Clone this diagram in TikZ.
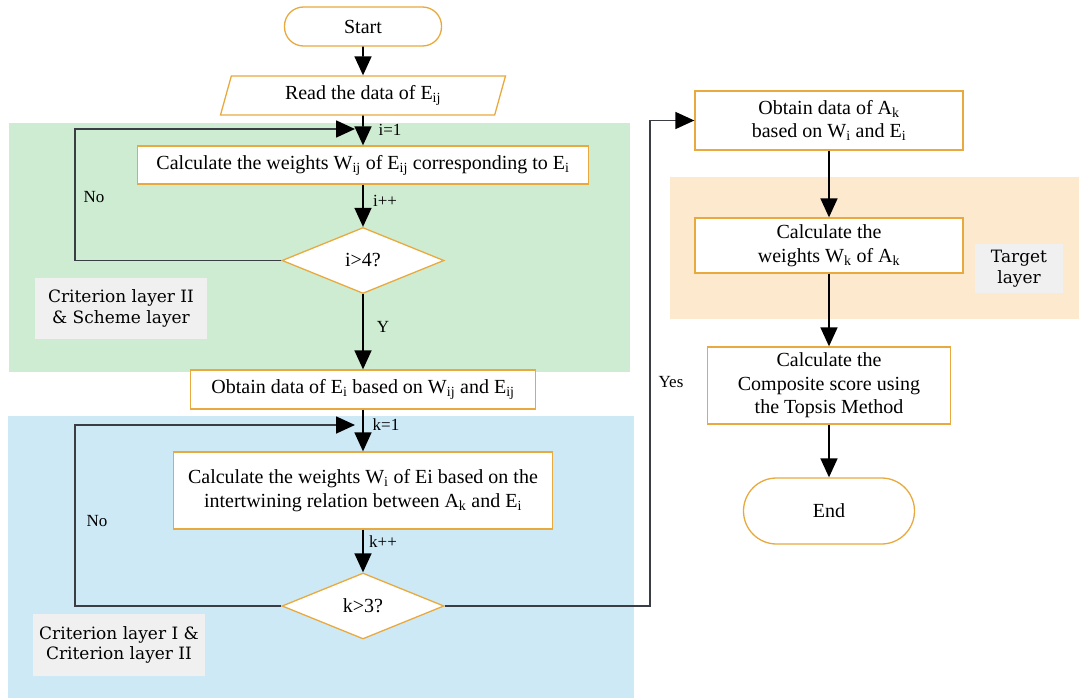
\documentclass[tikz,border=0pt]{standalone}
\usepackage{fontspec}
\setmainfont{Liberation Serif}
\newfontfamily\layerfont{DejaVu Serif}
\usetikzlibrary{shapes.geometric, arrows.meta, positioning}

\definecolor{edgeorange}{RGB}{232,170,62}
\definecolor{bggreen}{RGB}{206,236,209}
\definecolor{bgblue}{RGB}{206,233,246}
\definecolor{bgorange}{RGB}{252,233,206}
\definecolor{taggray}{RGB}{240,240,240}
\definecolor{loopgray}{RGB}{58,62,68}

\begin{document}
\begin{tikzpicture}[
      x=1bp, y=-1bp,
      every node/.style={font=\fontsize{20bp}{23.5bp}\selectfont},
      proc/.style={
          rectangle,
          draw=edgeorange,
          line width=1.3bp,
          fill=white,
          align=center,
          inner sep=2bp
        },
      term/.style={
          rectangle,
          rounded corners=19bp,
          draw=edgeorange,
          line width=1.3bp,
          fill=white,
          align=center
        },
      io/.style={
          trapezium,
          trapezium left angle=68,
          trapezium right angle=112,
          trapezium stretches body,
          draw=edgeorange,
          line width=1.3bp,
          fill=white,
          minimum height=39bp
        },
      decision/.style={
          diamond,
          aspect=2.5,
          inner sep=0pt,
          draw=edgeorange,
          line width=1.3bp,
          fill=white,
          minimum width=162bp,
          minimum height=66bp
        },
      layertag/.style={
          rectangle,
          fill=taggray,
          align=center,
          font=\layerfont\fontsize{17bp}{20.5bp}\selectfont
        },
      flowlabel/.style={
          font=\fontsize{17bp}{20bp}\selectfont,
          inner sep=0pt
        },
      arrow/.style={
          -{Triangle[length=19bp,width=17bp,color=black]},
          line width=1.6bp
        },
      backline/.style={
          -{Triangle[length=19bp,width=17bp,color=black]},
          draw=loopgray,
          line width=1.7bp
        }
    ]
    \useasboundingbox (0,0) rectangle (1079,698);

    % Layers
    \fill[bggreen] (9,123) rectangle (630,372);
    \fill[bgblue] (8,416) rectangle (634,698);
    \fill[bgorange] (670,177) rectangle (1079,319);

    \node[layertag, minimum width=172bp, minimum height=61bp] (tagscheme) at (121,308.5) {Criterion layer II\\\& Scheme layer};
    \node[layertag, minimum width=172bp, minimum height=62bp] (tagcrit) at (119,645) {Criterion layer I \&\\Criterion layer II};
    \node[layertag, minimum width=88bp, minimum height=49bp] (tagtarget) at (1019,268.5) {Target\\layer};

    % Nodes
    \node[term, minimum width=157bp, minimum height=39bp] (start) at (363,26.5) {Start};
    \node[io, minimum width=285bp] (read) at (363,95.5) {Read the data of E\textsubscript{ij}};
    \node[proc, minimum width=451bp, minimum height=38bp] (wij) at (363,165) {Calculate the weights W\textsubscript{ij} of E\textsubscript{ij} corresponding to E\textsubscript{i}};
    \node[decision] (ichk) at (363,260.5) {i>4?};
    \node[proc, minimum width=345bp, minimum height=39bp] (ei) at (363,389.5) {Obtain data of E\textsubscript{i} based on W\textsubscript{ij} and E\textsubscript{ij}};
    \node[proc, minimum width=379bp, minimum height=77bp] (wi) at (363,490.5) {Calculate the weights W\textsubscript{i} of Ei based on the\\intertwining relation between A\textsubscript{k} and E\textsubscript{i}};
    \node[decision] (kchk) at (363,606) {k>3?};

    \node[proc, minimum width=268bp, minimum height=59bp] (ak) at (829,120.5) {Obtain data of A\textsubscript{k}\\based on W\textsubscript{i} and E\textsubscript{i}};
    \node[proc, minimum width=268bp, minimum height=55bp] (wk) at (829,245.5) {Calculate the\\weights W\textsubscript{k} of A\textsubscript{k}};
    \node[proc, minimum width=243bp, minimum height=77bp] (topsis) at (829,385.5) {Calculate the\\Composite score using\\the Topsis Method};
    \node[term, rounded corners=33bp, minimum width=171bp, minimum height=66bp] (finish) at (829,511) {End};

    % Turning points
    \coordinate (ijoin) at (355,129);
    \coordinate (iloop) at (75,260.5);
    \coordinate (kjoin) at (355,425);
    \coordinate (kloop) at (75,606);
    \coordinate (yesturn) at (650,606);

    % Arrows
    \draw[arrow] (start) -- (read);
    \draw[arrow] (read) -- (wij);
    \draw[arrow] (wij) -- (ichk);
    \draw[arrow] (ichk) -- (ei);
    \draw[arrow] (ei) -- (wi);
    \draw[arrow] (wi) -- (kchk);
    \draw[backline] (ichk.west) -- (iloop) |- (ijoin);
    \draw[backline] (kchk.west) -- (kloop) |- (kjoin);
    \draw[backline] (kchk.east) -- (yesturn) |- (ak.west);
    \draw[arrow] (ak) -- (wk);
    \draw[arrow] (wk) -- (topsis);
    \draw[arrow] (topsis) -- (finish);

    % Labels
    \node[flowlabel] (lbli1) at (390,130) {i=1};
    \node[flowlabel] (lblipp) at (385,201) {i++};
    \node[flowlabel] (lblno1) at (94,197) {No};
    \node[flowlabel] (lbly) at (383,327) {Y};
    \node[flowlabel] (lblk1) at (386,425) {k=1};
    \node[flowlabel] (lblkpp) at (383,542) {k++};
    \node[flowlabel] (lblno2) at (97,521) {No};
    \node[flowlabel] (lblyes) at (671,382) {Yes};

  \end{tikzpicture}
\end{document}
